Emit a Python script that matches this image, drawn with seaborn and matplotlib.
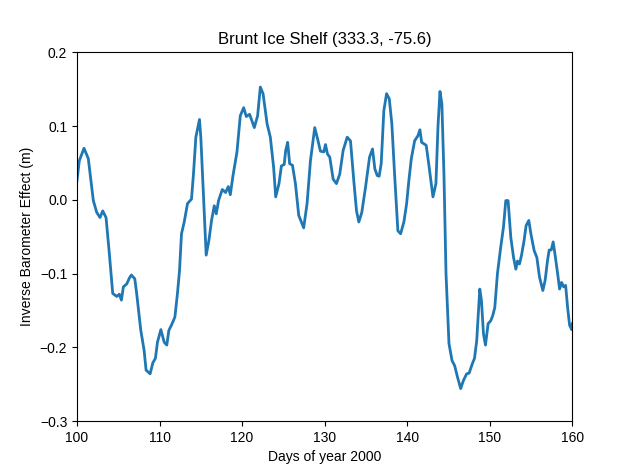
#!/usr/bin/env python3

import matplotlib
matplotlib.use("Agg")
import matplotlib.pyplot as plt
import pandas as pd
import seaborn as sns

# Values
days = [
    100.0, 100.28, 100.85, 101.37, 101.98, 102.39, 102.79, 103.12, 103.52, 103.92,
    104.33, 104.82, 105.13, 105.38, 105.62, 106.03, 106.35, 106.59, 107.0, 107.23,
    107.73, 108.13, 108.37, 108.86, 109.19, 109.5, 109.75, 110.16, 110.56, 110.88,
    111.13, 111.44, 111.86, 112.17, 112.42, 112.66, 112.99, 113.39, 113.87, 114.11,
    114.4, 114.84, 115.0, 115.65, 115.98, 116.3, 116.63, 116.87, 117.15, 117.6,
    118.0, 118.33, 118.57, 118.9, 119.38, 119.78, 120.19, 120.51, 120.91, 121.48,
    121.88, 122.21, 122.54, 123.03, 123.42, 123.82, 124.07, 124.47, 124.76, 125.1,
    125.28, 125.52, 125.76, 126.1, 126.46, 126.86, 127.46, 127.87, 128.28, 128.8,
    129.2, 129.49, 129.9, 130.1, 130.35, 130.62, 131.03, 131.43, 131.83, 132.24,
    132.73, 133.13, 133.53, 133.86, 134.14, 134.5, 134.95, 135.44, 135.8, 136.08,
    136.37, 136.6, 136.85, 137.17, 137.5, 137.83, 138.14, 138.47, 138.87, 139.2,
    139.6, 139.93, 140.2, 140.5, 140.9, 141.3, 141.54, 141.75, 142.03, 142.3,
    142.64, 143.12, 143.48, 143.73, 143.97, 144.2, 144.45, 144.7, 145.06, 145.43,
    145.75, 146.08, 146.48, 146.81, 147.2, 147.5, 147.9, 148.15, 148.42, 148.79,
    148.99, 149.24, 149.48, 149.8, 150.12, 150.36, 150.61, 150.93, 151.33, 151.66,
    151.94, 152.22, 152.55, 152.88, 153.16, 153.36, 153.6, 153.85, 154.16, 154.4,
    154.73, 154.98, 155.38, 155.7, 156.03, 156.43, 156.71, 157.0, 157.2, 157.45,
    157.68, 157.89, 158.22, 158.46, 158.7, 158.95, 159.19, 159.43, 159.67, 159.92,
    160.0,
]
ib_effect = [
    0.026, 0.053, 0.070, 0.056, -0.001, -0.017, -0.024, -0.015, -0.024, -0.073,
    -0.127, -0.131, -0.128, -0.136, -0.118, -0.114, -0.106, -0.102, -0.107, -0.127,
    -0.177, -0.204, -0.231, -0.236, -0.221, -0.215, -0.193, -0.176, -0.193, -0.197,
    -0.177, -0.170, -0.159, -0.127, -0.096, -0.046, -0.030, -0.005, 0.001, 0.035,
    0.085, 0.109, 0.085, -0.075, -0.055, -0.028, -0.008, -0.019, -0.001, 0.014,
    0.010, 0.018, 0.007, 0.033, 0.065, 0.114, 0.125, 0.113, 0.116, 0.098,
    0.114, 0.153, 0.144, 0.103, 0.085, 0.044, 0.004, 0.022, 0.046, 0.048,
    0.067, 0.078, 0.049, 0.047, 0.022, -0.021, -0.038, -0.005, 0.053, 0.098,
    0.080, 0.066, 0.065, 0.075, 0.062, 0.058, 0.028, 0.022, 0.035, 0.067,
    0.085, 0.080, 0.026, -0.015, -0.030, -0.017, 0.017, 0.058, 0.069, 0.042,
    0.033, 0.032, 0.049, 0.121, 0.144, 0.137, 0.103, 0.035, -0.042, -0.046,
    -0.030, -0.005, 0.026, 0.056, 0.080, 0.087, 0.095, 0.078, 0.076, 0.074,
    0.046, 0.004, 0.022, 0.100, 0.147, 0.130, 0.035, -0.100, -0.195, -0.218,
    -0.225, -0.240, -0.256, -0.245, -0.236, -0.235, -0.222, -0.215, -0.191, -0.121,
    -0.136, -0.182, -0.197, -0.168, -0.164, -0.157, -0.146, -0.100, -0.064, -0.037,
    -0.001, -0.001, -0.051, -0.078, -0.094, -0.083, -0.087, -0.075, -0.055, -0.035,
    -0.028, -0.046, -0.069, -0.078, -0.105, -0.123, -0.109, -0.082, -0.068, -0.068,
    -0.057, -0.073, -0.100, -0.121, -0.112, -0.118, -0.116, -0.146, -0.170, -0.176,
    -0.168,
]

plt.rcParams["font.family"] = ["Liberation Sans", "DejaVu Sans"]

df = pd.DataFrame({"day": days, "ib": ib_effect})

fig, ax = plt.subplots(figsize=(6.31, 4.72), dpi=100)
fig.subplots_adjust(left=0.122, right=0.907, bottom=0.108, top=0.889)

sns.lineplot(data=df, x="day", y="ib", ax=ax, color="#1f77b4", linewidth=2)

ax.set_xlim(100, 160)
ax.set_ylim(-0.3, 0.2)
ax.set_yticks([-0.3, -0.2, -0.1, 0.0, 0.1, 0.2])
ax.set_xlabel("Days of year 2000")
ax.set_ylabel("Inverse Barometer Effect (m)")
ax.set_title("Brunt Ice Shelf (333.3, -75.6)")

fig.savefig("out.png", dpi=100)
plt.close(fig)
